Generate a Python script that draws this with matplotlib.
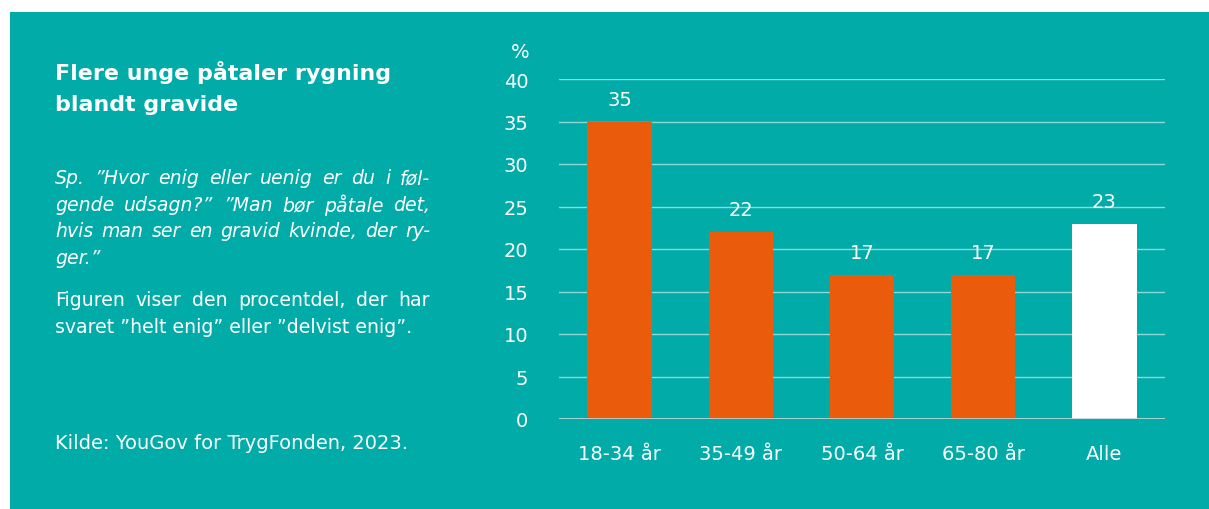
import matplotlib
matplotlib.use("Agg")
import matplotlib.pyplot as plt
from matplotlib.patches import Rectangle

categories = ["18-34 år", "35-49 år", "50-64 år", "65-80 år", "Alle"]
values = [35, 22, 17, 17, 23]
yticks = [0, 5, 10, 15, 20, 25, 30, 35, 40]

TEAL = "#00ABA8"
ORANGE = "#EA5B0C"
plt.rcParams["font.family"] = ["DejaVu Sans"]

W, H = 1209, 510
fig = plt.figure(figsize=(W/100, H/100), dpi=100)
fig.patch.set_facecolor("white")
fig.patches.append(Rectangle((10/W, 0), 1 - 10/W, 1 - 13/H,
                             transform=fig.transFigure, facecolor=TEAL,
                             edgecolor="none", zorder=-10))

ax = fig.add_axes([559/W, 1 - 420/H, (1165-559)/W, (420-80)/H])
ax.set_facecolor("none")
colors = [ORANGE] * 4 + ["white"]
x = range(len(categories))
ax.bar(x, values, width=0.53, color=colors, zorder=3)
for xi, v in zip(x, values):
    ax.text(xi, v + 1.5, f"{v}", ha="center", va="bottom", color="white", fontsize=14)
ax.set_xlim(-0.5, len(categories) - 0.5)
ax.set_ylim(0, 40)
ax.set_yticks(yticks)
ax.set_yticklabels([str(t) for t in yticks])
ax.set_xticks(list(x))
ax.set_xticklabels(categories)
ax.tick_params(axis="both", length=0, colors="white", labelsize=14)
ax.tick_params(axis="y", pad=22)
ax.tick_params(axis="x", pad=18)
for s in ax.spines.values():
    s.set_visible(False)
ax.grid(axis="y", color="#8FD8D6", linewidth=1, zorder=0)
ax.axhline(0, color="#BFD9D8", linewidth=1.2, zorder=4)
fig.text(520/W, 1 - 52/H, "%", color="white", fontsize=14, ha="center", va="center")

# Left text panel
fig.text(55/W, 1 - 73/H, "Flere unge påtaler rygning", color="white",
         fontsize=15.9, fontweight="bold", va="center", ha="left")
fig.text(55/W, 1 - 105/H, "blandt gravide", color="white",
         fontsize=15.9, fontweight="bold", va="center", ha="left")

renderer = fig.canvas.get_renderer()
LEFT, RIGHT = 55, 430


def draw_line(line, ypix, justify, **kw):
    if not justify:
        fig.text(LEFT/W, 1 - ypix/H, line, color="white", va="center", ha="left", **kw)
        return
    words = line.split(" ")
    widths = []
    for w_ in words:
        t = fig.text(0, 0, w_, **kw)
        widths.append(t.get_window_extent(renderer).width)
        t.remove()
    gap = (RIGHT - LEFT - sum(widths)) / (len(words) - 1)
    xpos = LEFT
    for w_, wd in zip(words, widths):
        fig.text(xpos/W, 1 - ypix/H, w_, color="white", va="center", ha="left", **kw)
        xpos += wd + gap


italic_lines = ['Sp. ”Hvor enig eller uenig er du i føl-',
                'gende udsagn?” ”Man bør påtale det,',
                'hvis man ser en gravid kvinde, der ry-',
                'ger.”']
for i, line in enumerate(italic_lines):
    draw_line(line, 179 + 26.5*i, i < len(italic_lines) - 1,
              fontsize=13.6, style="italic")
body_lines = ['Figuren viser den procentdel, der har',
              'svaret ”helt enig” eller ”delvist enig”.']
for i, line in enumerate(body_lines):
    draw_line(line, 301 + 26.5*i, i < len(body_lines) - 1, fontsize=13.6)
fig.text(55/W, 1 - 444/H, "Kilde: YouGov for TrygFonden, 2023.", color="white",
         fontsize=14, va="center", ha="left")

fig.savefig("out.png", dpi=100, facecolor=fig.get_facecolor())
